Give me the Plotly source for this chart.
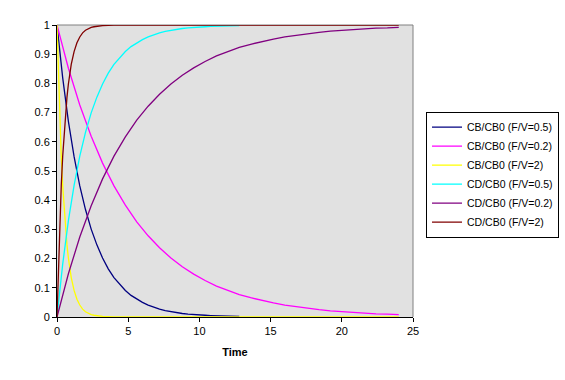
import plotly.graph_objects as go

# ---- data ----
t_fast = [0, 0.1, 0.2, 0.3, 0.4, 0.5, 0.6, 0.7, 0.8, 0.9, 1.0, 1.2, 1.4, 1.6, 1.8,
          2.0, 2.2, 2.4, 2.6, 2.8, 3.0, 3.2, 4, 8, 12, 16, 20, 24]
cb_fv2 = [1, 0.819, 0.670, 0.549, 0.449, 0.368, 0.301, 0.247, 0.202, 0.165, 0.135,
          0.091, 0.061, 0.041, 0.027, 0.018, 0.012, 0.008, 0.006, 0.004, 0.002, 0.002,
          0, 0, 0, 0, 0, 0]
cd_fv2 = [0, 0.181, 0.330, 0.451, 0.551, 0.632, 0.699, 0.753, 0.798, 0.835, 0.865,
          0.909, 0.939, 0.959, 0.973, 0.982, 0.988, 0.992, 0.994, 0.996, 0.998, 0.998,
          1, 1, 1, 1, 1, 1]

t_mid = [0, 0.4, 0.8, 1.2, 1.6, 2.0, 2.4, 2.8, 3.2, 3.6, 4.0, 4.4, 4.8, 5.2, 5.6, 6.0,
         6.4, 6.8, 7.2, 7.6, 8.0, 8.4, 8.8, 9.2, 9.6, 10.0, 10.4, 10.8, 11.2, 11.6,
         12.0, 12.4, 12.8]
cb_fv05 = [1, 0.819, 0.670, 0.549, 0.449, 0.368, 0.301, 0.247, 0.202, 0.165, 0.135,
           0.111, 0.091, 0.074, 0.061, 0.050, 0.041, 0.033, 0.027, 0.022, 0.018, 0.015,
           0.012, 0.010, 0.008, 0.007, 0.006, 0.005, 0.004, 0.003, 0.002, 0.002, 0.002]
cd_fv05 = [0, 0.181, 0.330, 0.451, 0.551, 0.632, 0.699, 0.753, 0.798, 0.835, 0.865,
           0.889, 0.909, 0.926, 0.939, 0.950, 0.959, 0.967, 0.973, 0.978, 0.982, 0.985,
           0.988, 0.990, 0.992, 0.993, 0.994, 0.995, 0.996, 0.997, 0.998, 0.998, 0.998]

t_slow = [0, 0.8, 1.6, 2.4, 3.2, 4.0, 4.8, 5.6, 6.4, 7.2, 8.0, 8.8, 9.6, 10.4, 11.2,
          12.0, 12.8, 13.6, 14.4, 15.2, 16.0, 16.8, 17.6, 18.4, 19.2, 20.0, 20.8,
          21.6, 22.4, 23.2, 24.0]
cb_fv02 = [1, 0.852, 0.726, 0.619, 0.527, 0.449, 0.383, 0.326, 0.278, 0.237, 0.202,
           0.172, 0.147, 0.125, 0.106, 0.091, 0.077, 0.066, 0.056, 0.048, 0.041, 0.035,
           0.030, 0.025, 0.021, 0.018, 0.016, 0.013, 0.011, 0.010, 0.008]
cd_fv02 = [0, 0.148, 0.274, 0.381, 0.473, 0.551, 0.617, 0.674, 0.722, 0.763, 0.798,
           0.828, 0.853, 0.875, 0.894, 0.909, 0.923, 0.934, 0.944, 0.952, 0.959, 0.965,
           0.970, 0.975, 0.979, 0.982, 0.984, 0.987, 0.989, 0.990, 0.992]

x_ticks = [0, 5, 10, 15, 20, 25]
y_ticks = [0, 0.1, 0.2, 0.3, 0.4, 0.5, 0.6, 0.7, 0.8, 0.9, 1]
y_tick_labels = ["0", "0.1", "0.2", "0.3", "0.4", "0.5", "0.6", "0.7", "0.8", "0.9", "1"]

series = [
    ("CB/CB0 (F/V=0.5)", t_mid, cb_fv05, "#000080"),
    ("CB/CB0 (F/V=0.2)", t_slow, cb_fv02, "#FF00FF"),
    ("CB/CB0 (F/V=2)", t_fast, cb_fv2, "#FFFF00"),
    ("CD/CB0 (F/V=0.5)", t_mid, cd_fv05, "#00FFFF"),
    ("CD/CB0 (F/V=0.2)", t_slow, cd_fv02, "#800080"),
    ("CD/CB0 (F/V=2)", t_fast, cd_fv2, "#800000"),
]

fig = go.Figure()
for name, xs, ys, col in series:
    fig.add_trace(go.Scatter(x=xs, y=ys, mode="lines", name=name,
                             line=dict(color=col, width=1.3)))

font = dict(family="Liberation Sans, Arial, sans-serif", size=11, color="black")
legend_font = dict(family="Liberation Sans, Arial, sans-serif", size=10.5, color="black")

fig.update_layout(
    width=565, height=380,
    margin=dict(l=57, r=152, t=25, b=63, autoexpand=False),
    paper_bgcolor="white",
    plot_bgcolor="#E1E1E1",
    font=font,
    showlegend=True,
    legend=dict(xref="container", yref="container", x=0.754, y=0.706,
                xanchor="left", yanchor="top",
                bordercolor="black", borderwidth=1, bgcolor="white",
                font=legend_font, tracegroupgap=0, itemwidth=30),
    xaxis=dict(range=[0, 25], tickvals=x_ticks, showgrid=False, zeroline=False,
               showline=True, linecolor="black", linewidth=1,
               ticks="outside", ticklen=4, tickcolor="black",
               layer="below traces",
               title=dict(text="<b>Time</b>", font=font, standoff=12)),
    yaxis=dict(range=[0, 1], tickvals=y_ticks, ticktext=y_tick_labels,
               showgrid=False, zeroline=False,
               showline=True, linecolor="black", linewidth=1,
               ticks="outside", ticklen=4, tickcolor="black",
               layer="below traces"),
    shapes=[
        dict(type="line", xref="paper", yref="paper", x0=0, x1=1, y0=1, y1=1,
             line=dict(color="#808080", width=1), layer="below"),
        dict(type="line", xref="paper", yref="paper", x0=1, x1=1, y0=0, y1=1,
             line=dict(color="#808080", width=1), layer="below"),
    ],
)

fig.write_html("out.html")
